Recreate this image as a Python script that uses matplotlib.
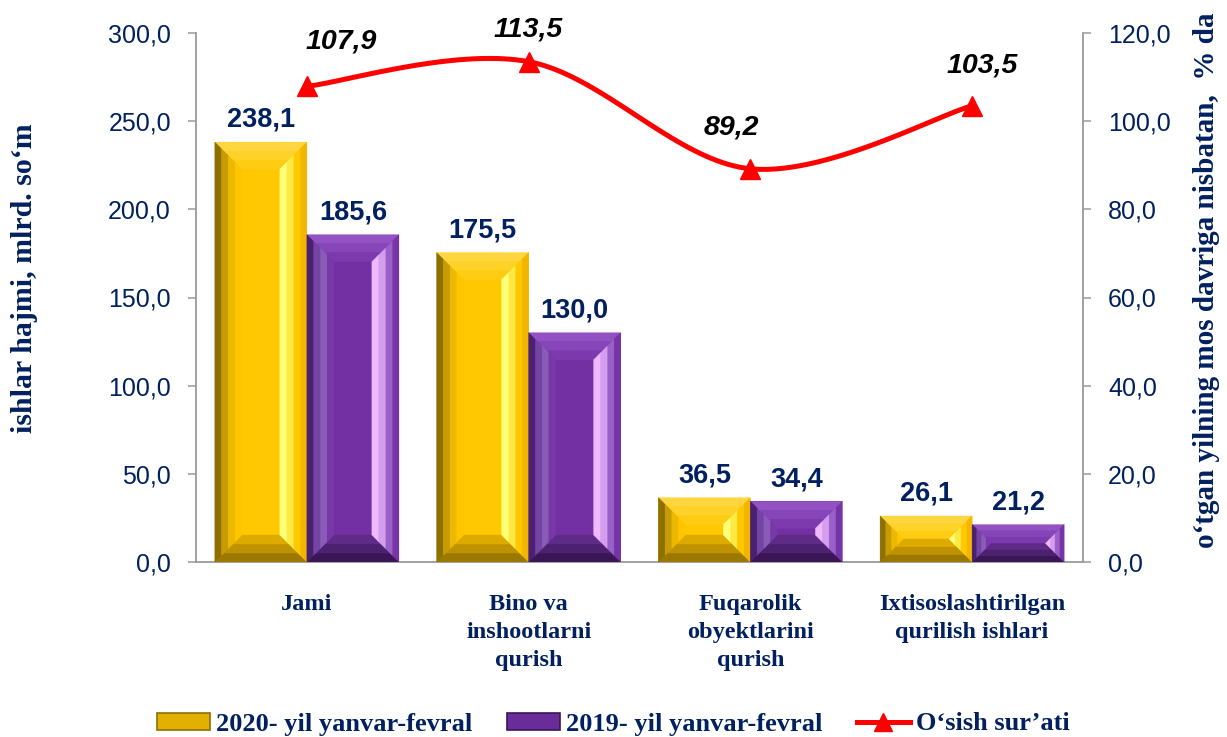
import matplotlib
matplotlib.use("Agg")
import matplotlib.pyplot as plt
import numpy as np
from matplotlib.patches import Polygon, Patch
from matplotlib.lines import Line2D
from matplotlib.ticker import FuncFormatter, MultipleLocator

categories = ["Jami", "Bino va\ninshootlarni\nqurish", "Fuqarolik\nobyektlarini\nqurish",
              "Ixtisoslashtirilgan\nqurilish ishlari"]
vol_2020 = [238.1, 175.5, 36.5, 26.1]
vol_2019 = [185.6, 130.0, 34.4, 21.2]
growth = [107.9, 113.5, 89.2, 103.5]

series_names = ["2020- yil yanvar-fevral", "2019- yil yanvar-fevral", "O\u2018sish sur\u2019ati"]
left_title = "ishlar hajmi, mlrd. so\u2018m"
right_title = "o\u2018tgan yilning mos davriga nisbatan,  % da"

NAVY = "#002060"
GREY = "#9A9A9A"
RED = "#FF0000"
SANS = ["Liberation Sans", "DejaVu Sans"]
SERIF = ["Liberation Serif", "DejaVu Serif"]

# bevel shading, outer -> inner strips for each side
YELLOW = dict(face="#FFC800",
              top=["#FFD640", "#FFD22A", "#FFCC14"],
              left=["#8E7000", "#C89C00", "#EDB900", "#FFC600"],
              right=["#F2B600", "#FFC800", "#FFEA44", "#FFFF7A"],
              bottom=["#9C7800", "#BE9200", "#DDAA00"])
PURPLE = dict(face="#7230A2",
              top=["#9252C4", "#8746B8", "#7C3AAE"],
              left=["#4A2070", "#7444A4", "#8A5CB8", "#7838A8"],
              right=["#7634A6", "#9A60C8", "#D49EEE", "#EFB8FF"],
              bottom=["#3A1656", "#4C2170", "#5E2C86"])


def comma(v, _pos=None):
    return f"{v:.1f}".replace(".", ",")


def add_bevel(ax, bar, shade, size_px=27):
    to_disp = ax.transData.transform
    to_data = ax.transData.inverted().transform
    x0, y0 = bar.get_x(), bar.get_y()
    x1, y1 = x0 + bar.get_width(), y0 + bar.get_height()
    (px0, py0), (px1, py1) = to_disp([(x0, y0), (x1, y1)])
    b = min(size_px, (px1 - px0) / 2, (py1 - py0) / 2)
    o = {"bl": np.array([px0, py0]), "br": np.array([px1, py0]),
         "tr": np.array([px1, py1]), "tl": np.array([px0, py1])}
    i = {"bl": o["bl"] + [b, b], "br": o["br"] + [-b, b],
         "tr": o["tr"] + [-b, -b], "tl": o["tl"] + [b, -b]}
    sides = {"top": ("tl", "tr"), "bottom": ("bl", "br"),
             "left": ("bl", "tl"), "right": ("br", "tr")}
    for side, (a, c) in sides.items():
        cols = shade[side]
        n = len(cols)
        for k, col in enumerate(cols):
            t0, t1 = k / n, (k + 1) / n
            pts = [o[a] + t0 * (i[a] - o[a]), o[c] + t0 * (i[c] - o[c]),
                   o[c] + t1 * (i[c] - o[c]), o[a] + t1 * (i[a] - o[a])]
            ax.add_patch(Polygon(to_data(pts), closed=True, facecolor=col,
                                 edgecolor=col, linewidth=0.3, zorder=3))


def smooth(xs, ys, steps=40):
    # Catmull-Rom style bezier smoothing (like office "smoothed line")
    p = np.column_stack([xs, ys]).astype(float)
    out = []
    for k in range(len(p) - 1):
        p0 = p[max(k - 1, 0)]
        p1, p2 = p[k], p[k + 1]
        p3 = p[min(k + 2, len(p) - 1)]
        c1 = p1 + (p2 - p0) / 6
        c2 = p2 - (p3 - p1) / 6
        t = np.linspace(0, 1, steps)[:, None]
        seg = ((1 - t) ** 3 * p1 + 3 * (1 - t) ** 2 * t * c1
               + 3 * (1 - t) * t ** 2 * c2 + t ** 3 * p2)
        out.append(seg if k == 0 else seg[1:])
    out = np.vstack(out)
    return out[:, 0], out[:, 1]


fig = plt.figure(figsize=(12.27, 7.37), dpi=100)
ax = fig.add_axes([196 / 1227, 1 - 562 / 737, (1083 - 196) / 1227, (562 - 33) / 737])
ax2 = ax.twinx()

x = np.arange(len(categories))
w = 0.415
ax.set_xlim(-0.5, len(categories) - 0.5)
ax.set_ylim(0, 300)
ax2.set_ylim(0, 120)

bars20 = ax.bar(x - w / 2, vol_2020, w, color=YELLOW["face"], zorder=2)
bars19 = ax.bar(x + w / 2, vol_2019, w, color=PURPLE["face"], zorder=2)
for b in bars20:
    add_bevel(ax, b, YELLOW)
for b in bars19:
    add_bevel(ax, b, PURPLE)

for bars, vals in ((bars20, vol_2020), (bars19, vol_2019)):
    for b, v in zip(bars, vals):
        ax.annotate(comma(v), (b.get_x() + b.get_width() / 2, v),
                    xytext=(0, 16), textcoords="offset points",
                    ha="center", va="center", fontsize=19.5, fontweight="bold",
                    color=NAVY, family=SANS, zorder=5)

sx, sy = smooth(x, growth)
ax2.plot(sx, sy, color=RED, lw=3.6, solid_capstyle="round", zorder=4)
ax2.plot(x, growth, linestyle="none", marker="^", ms=15, color=RED, zorder=5)
label_offsets = [(25, -32), (0, -23), (-14, -30), (7, -29)]
for xi, g, (dx, dy) in zip(x, growth, label_offsets):
    ax2.annotate(comma(g), (xi, g), xytext=(dx, -dy), textcoords="offset points",
                 ha="center", va="center", fontsize=20.5, fontweight="bold",
                 fontstyle="italic", color="black", family=SANS)

ax.yaxis.set_major_locator(MultipleLocator(50))
ax2.yaxis.set_major_locator(MultipleLocator(20))
ax.yaxis.set_major_formatter(FuncFormatter(comma))
ax2.yaxis.set_major_formatter(FuncFormatter(comma))

ax.set_xticks(x)
ax.set_xticklabels(categories)
for lbl in ax.get_xticklabels():
    lbl.set_family(SERIF)
    lbl.set_fontweight("bold")
    lbl.set_fontsize(17.5)
    lbl.set_color(NAVY)
    lbl.set_linespacing(1.45)
ax.tick_params(axis="x", length=0, pad=23)

for a in (ax, ax2):
    a.tick_params(axis="y", direction="out", length=6, width=1.1, color=GREY,
                  pad=12, labelsize=18, labelcolor=NAVY)
    for lbl in a.get_yticklabels():
        lbl.set_family(SANS)

for a in (ax, ax2):
    a.spines["top"].set_visible(False)
    for s in ("left", "right", "bottom"):
        a.spines[s].set_color(GREY)
        a.spines[s].set_linewidth(1.3)
ax.spines["right"].set_visible(False)
ax2.spines["left"].set_visible(False)
ax2.spines["bottom"].set_visible(False)

fig.text(25 / 1227, 1 - 278 / 737, left_title, rotation=90, ha="center", va="center",
         fontsize=21.5, fontweight="bold", color=NAVY, family=SERIF)
fig.text(1206 / 1227, 1 - 280 / 737, right_title, rotation=90, ha="center", va="center",
         fontsize=21, fontweight="bold", color=NAVY, family=SERIF)

handles = [
    Patch(facecolor="#E2B000", edgecolor="#8E7000", linewidth=1.2),
    Patch(facecolor="#6A2C98", edgecolor="#3A1656", linewidth=1.2),
    Line2D([], [], color=RED, lw=3.6, marker="^", ms=13),
]
fig.legend(handles, series_names, loc="center", bbox_to_anchor=(0.5, 1 - 724 / 737),
           ncol=3, frameon=False, handlelength=2.0, handleheight=0.6,
           handletextpad=0.25, columnspacing=1.3,
           prop=dict(family=SERIF, weight="bold", size=19))
for t in fig.legends[0].get_texts():
    t.set_color(NAVY)

fig.savefig("out.png", dpi=100, facecolor="white")
